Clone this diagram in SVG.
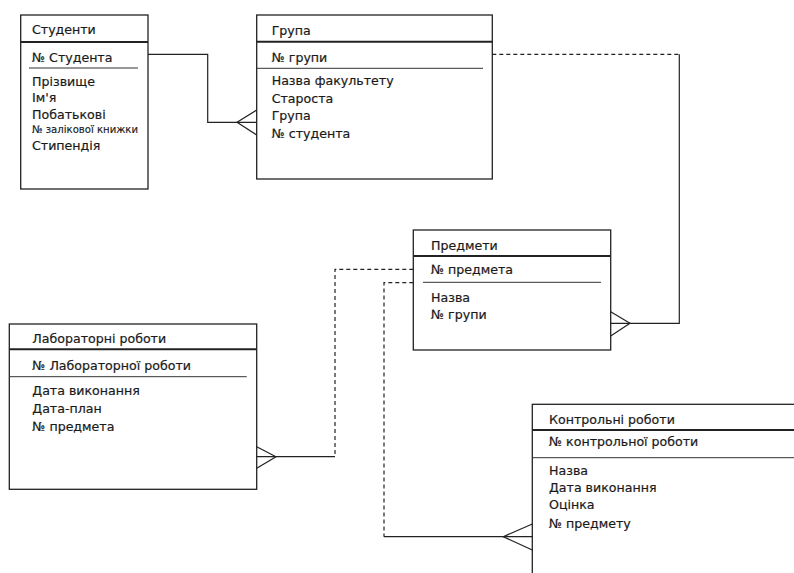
<svg xmlns="http://www.w3.org/2000/svg" width="794" height="573" viewBox="0 0 794 573">
<style>
 .box{fill:#fff;stroke:#222;stroke-width:1.3}
 .hdr{stroke:#222;stroke-width:2}
 .sep{stroke:#333;stroke-width:1}
 text{font-family:"DejaVu Sans","Liberation Sans",sans-serif;font-size:12.6px;fill:#1a1a1a;stroke:#1a1a1a;stroke-width:0.2}
 .small{font-size:10.5px;stroke-width:0.15}
 .conn{fill:none;stroke:#222;stroke-width:1.2}
 .dash{stroke-dasharray:4 3}
</style>
<rect width="794" height="573" fill="#fff"/>

<g id="students">
 <rect class="box" x="20.7" y="15" width="127.3" height="174"/>
 <line class="hdr" x1="20.7" y1="42" x2="148" y2="42"/>
 <text x="32" y="34">Студенти</text>
 <text x="32" y="62">№ Студента</text>
 <line class="sep" x1="29" y1="68" x2="138" y2="68"/>
 <text x="32" y="85.5">Прізвище</text>
 <text x="32" y="102">Ім'я</text>
 <text x="32" y="119">Побатькові</text>
 <text class="small" x="32" y="133.3" textLength="106" lengthAdjust="spacingAndGlyphs">№ залікової книжки</text>
 <text x="32" y="150">Стипендія</text>
</g>

<g id="group">
 <rect class="box" x="256.7" y="15" width="235.6" height="164"/>
 <line class="hdr" x1="256.7" y1="41.7" x2="492.3" y2="41.7"/>
 <text x="271.7" y="34.5">Група</text>
 <text x="271.7" y="62">№ групи</text>
 <line class="sep" x1="257" y1="68.3" x2="483" y2="68.3"/>
 <text x="271.7" y="85">Назва факультету</text>
 <text x="271.7" y="102.5">Староста</text>
 <text x="271.7" y="120">Група</text>
 <text x="271.7" y="137.5">№ студента</text>
</g>

<g id="subjects">
 <rect class="box" x="413.3" y="230" width="197.4" height="120"/>
 <line class="hdr" x1="413.3" y1="256" x2="610.7" y2="256"/>
 <text x="431" y="250">Предмети</text>
 <text x="431" y="274">№ предмета</text>
 <line class="sep" x1="423" y1="282.3" x2="601" y2="282.3"/>
 <text x="431" y="301.7">Назва</text>
 <text x="431" y="319.3">№ групи</text>
</g>

<g id="labs">
 <rect class="box" x="9.3" y="324" width="247.4" height="165.3"/>
 <line class="hdr" x1="9.3" y1="349.3" x2="256.7" y2="349.3"/>
 <text x="32.3" y="342.5">Лабораторні роботи</text>
 <text x="32.3" y="369.5">№ Лабораторної роботи</text>
 <line class="sep" x1="9.3" y1="376.7" x2="246.7" y2="376.7"/>
 <text x="32.3" y="395">Дата виконання</text>
 <text x="32.3" y="413.3">Дата-план</text>
 <text x="32.3" y="431">№ предмета</text>
</g>

<g id="tests">
 <rect class="box" x="532.3" y="404.3" width="300" height="200"/>
 <line class="hdr" x1="532.3" y1="430" x2="794" y2="430"/>
 <text x="549" y="423.5">Контрольні роботи</text>
 <text x="549" y="446">№ контрольної роботи</text>
 <line class="sep" x1="532.3" y1="457.7" x2="794" y2="457.7"/>
 <text x="549" y="475">Назва</text>
 <text x="549" y="492">Дата виконання</text>
 <text x="549" y="509">Оцінка</text>
 <text x="549" y="527.5">№ предмету</text>
</g>

<g id="connectors">
 <polyline class="conn" points="148,54.3 207.7,54.3 207.7,122.3 256.7,122.3"/>
 <polyline class="conn" points="256.7,110 237,122.3 256.7,135"/>

 <line class="conn dash" x1="492.3" y1="54.3" x2="679.3" y2="54.3"/>
 <polyline class="conn" points="679.3,54.3 679.3,323.3 610.7,323.3"/>
 <polyline class="conn" points="610.7,311.7 630,323.3 610.7,336"/>

 <polyline class="conn dash" points="413.3,269.3 335,269.3 335,456.7"/>
 <line class="conn" x1="335" y1="456.7" x2="256.7" y2="456.7"/>
 <polyline class="conn" points="256.7,446.7 276,456.7 256.7,468.3"/>

 <polyline class="conn dash" points="413.3,282.7 384,282.7 384,536.7"/>
 <line class="conn" x1="384" y1="536.7" x2="532.3" y2="536.7"/>
 <polyline class="conn" points="532.3,524 503.3,536.7 532.3,550"/>
</g>
</svg>
